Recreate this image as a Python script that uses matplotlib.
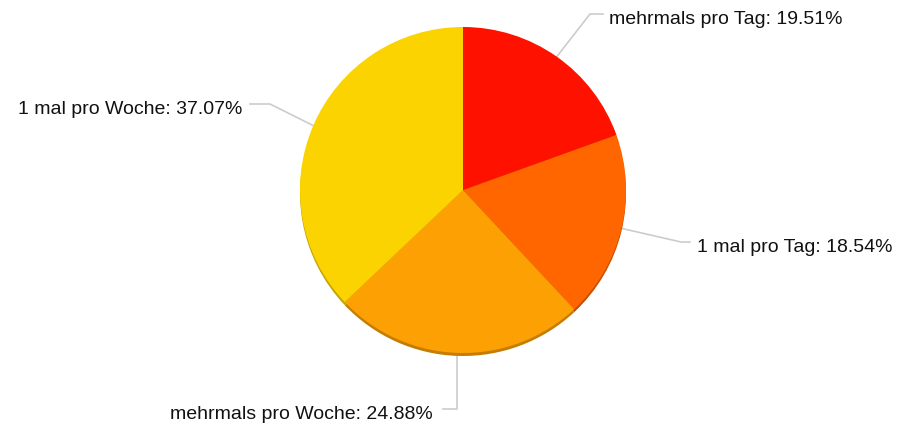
import numpy as np
import matplotlib.pyplot as plt

plt.rcParams['font.family'] = ['Liberation Sans', 'DejaVu Sans']

categories = ['mehrmals pro Tag', '1 mal pro Tag', 'mehrmals pro Woche', '1 mal pro Woche']
shares = [19.51, 18.54, 24.88, 37.07]
colors = ['#ff1100', '#ff6600', '#fca003', '#fbd300']
rim_colors = ['#c40d00', '#c65000', '#c47d00', '#c4a400']

# label layout in pixels from top-left: elbow point, end of leader line, text anchor
elbows = [(590, 15), (681, 243), (457, 410), (270, 105)]
line_ends = [603, 690, 443, 250]
text_x = [609, 697, 433, 242]
sides = ['right', 'right', 'left', 'left']

W, H = 902, 427
cx, cy, r = 463, 191, 163

fig = plt.figure(figsize=(W / 100, H / 100), dpi=100)
ax = fig.add_axes([0, 0, 1, 1])

# darker rim beneath for the 3d edge
ax.pie(shares, colors=rim_colors, startangle=90, counterclock=False,
       center=(cx, H - cy - 3), radius=r, frame=True,
       wedgeprops=dict(linewidth=0))
wedges, _ = ax.pie(shares, colors=colors, startangle=90, counterclock=False,
                   center=(cx, H - cy), radius=r, frame=True,
                   wedgeprops=dict(linewidth=0))

for w, name, val, (ex, ey), endx, tx, side in zip(wedges, categories, shares,
                                                  elbows, line_ends, text_x, sides):
    mid = np.deg2rad((w.theta1 + w.theta2) / 2)
    px = cx + r * np.cos(mid)
    py = H - cy + r * np.sin(mid)
    if abs(px - ex) < 8:
        px = ex
        py -= 3
    ey = H - ey
    ax.plot([px, ex, endx], [py, ey, ey], color='#cccccc', linewidth=1.2, zorder=0)
    ax.text(tx, ey - 4.5, f'{name}: {val:.2f}%', ha='left' if side == 'right' else 'right',
            va='center', fontsize=14, color='#111111')

ax.set_xlim(0, W)
ax.set_ylim(0, H)
ax.set_aspect('equal')
ax.axis('off')

fig.savefig('out.png', dpi=100)
